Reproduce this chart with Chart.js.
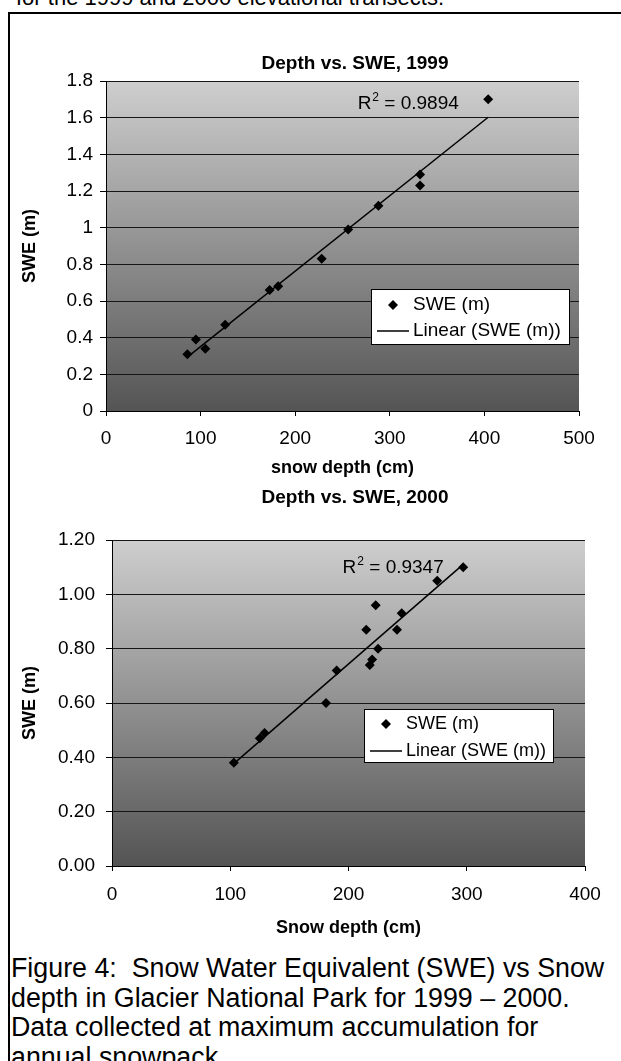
<!DOCTYPE html>
<html>
<head>
<meta charset="utf-8">
<script src="https://cdn.jsdelivr.net/npm/chart.js@4.4.1/dist/chart.umd.min.js"></script>
<style>
  body { margin: 0; width: 621px; height: 1061px; overflow: hidden; background: #fff; position: relative;
         font-family: Arial, "Liberation Sans", sans-serif; }
  .frame { position: absolute; left: 8px; top: 12px; width: 700px; height: 1100px; border: 2px solid #000; }
  .head { position: absolute; left: 16px; top: -17px; font-size: 22px; line-height: 30px; white-space: nowrap; }
  .box { position: absolute; left: 0; width: 621px; }
  .caption { position: absolute; left: 11px; top: 954px; font-size: 26.8px; line-height: 29.5px; white-space: pre; }
</style>
</head>
<body>
<div class="head">for the 1999 and 2000 elevational transects.</div>
<div class="frame"></div>
<div class="box" style="top:40px;height:440px"><canvas id="c1999"></canvas></div>
<div class="box" style="top:480px;height:460px"><canvas id="c2000"></canvas></div>
<div class="caption">Figure 4:  Snow Water Equivalent (SWE) vs Snow
depth in Glacier National Park for 1999 – 2000.
Data collected at maximum accumulation for
annual snowpack.</div>
<script>
/* data */
const depth1999 = [86, 95, 105, 126, 173, 182, 228, 256, 288, 332, 332, 404];
const swe1999   = [0.31, 0.39, 0.34, 0.47, 0.66, 0.68, 0.83, 0.99, 1.12, 1.29, 1.23, 1.70];
const depth2000 = [103, 125, 129, 181, 190, 215, 218, 220, 223, 225, 241, 245, 275, 297];
const swe2000   = [0.38, 0.47, 0.49, 0.60, 0.72, 0.87, 0.74, 0.76, 0.96, 0.80, 0.87, 0.93, 1.05, 1.10];

const xTicks1999 = ['0', '100', '200', '300', '400', '500'];
const yTicks1999 = ['0', '0.2', '0.4', '0.6', '0.8', '1', '1.2', '1.4', '1.6', '1.8'];
const xTicks2000 = ['0', '100', '200', '300', '400'];
const yTicks2000 = ['0.00', '0.20', '0.40', '0.60', '0.80', '1.00', '1.20'];

const r2Text1999 = '0.9894';
const r2Text2000 = '0.9347';

Chart.defaults.font.family = 'Arial, "Liberation Sans", sans-serif';
Chart.defaults.color = '#000';

/* least squares line through the points */
function linFit(xs, ys) {
  const n = xs.length;
  const mx = xs.reduce((a, b) => a + b, 0) / n;
  const my = ys.reduce((a, b) => a + b, 0) / n;
  let sxy = 0, sxx = 0;
  xs.forEach((x, i) => { sxy += (x - mx) * (ys[i] - my); sxx += (x - mx) * (x - mx); });
  const b = sxy / sxx, a = my - b * mx;
  const lo = Math.min(...xs), hi = Math.max(...xs);
  return [{ x: lo, y: a + b * lo }, { x: hi, y: a + b * hi }];
}

/* grey gradient behind the plot */
const plotBg = {
  id: 'plotBg',
  beforeDraw(chart) {
    const { ctx, chartArea: a } = chart;
    const g = ctx.createLinearGradient(0, a.top, 0, a.bottom);
    g.addColorStop(0, '#cecece');
    g.addColorStop(1, '#545454');
    ctx.save();
    ctx.fillStyle = g;
    ctx.fillRect(a.left, a.top, a.right - a.left, a.bottom - a.top);
    ctx.restore();
  }
};

/* title, R² note and boxed legend */
const extras = {
  id: 'extras',
  afterDraw(chart, args, o) {
    const { ctx, scales: { x, y } } = chart;
    ctx.save();
    ctx.fillStyle = '#000';
    ctx.font = 'bold 19px Arial, "Liberation Sans"';
    ctx.textAlign = 'center';
    ctx.textBaseline = 'alphabetic';
    ctx.fillText(o.title, o.titleX, o.titleY);

    let px = x.getPixelForValue(o.r2At[0]), py = y.getPixelForValue(o.r2At[1]);
    ctx.textAlign = 'left';
    ctx.font = '19px Arial, "Liberation Sans"';
    ctx.fillText('R', px, py);
    px += ctx.measureText('R').width + 1;
    ctx.font = '12px Arial, "Liberation Sans"';
    ctx.fillText('2', px, py - 8);
    px += ctx.measureText('2').width;
    ctx.font = '19px Arial, "Liberation Sans"';
    ctx.fillText(' = ' + o.r2, px, py);

    const L = o.legend;
    ctx.fillStyle = '#fff';
    ctx.fillRect(L.x, L.y, L.w, L.h);
    ctx.strokeStyle = '#000';
    ctx.lineWidth = 1;
    ctx.strokeRect(L.x + 0.5, L.y + 0.5, L.w - 1, L.h - 1);
    const ds = chart.data.datasets;
    ctx.fillStyle = '#000';
    // marker row
    const dx = L.x + 22, dy = L.y + L.row1;
    ctx.beginPath();
    ctx.moveTo(dx, dy - 5); ctx.lineTo(dx + 5, dy); ctx.lineTo(dx, dy + 5); ctx.lineTo(dx - 5, dy);
    ctx.closePath(); ctx.fill();
    // line row
    ctx.lineWidth = 1.5;
    ctx.beginPath();
    ctx.moveTo(L.x + 6, L.y + L.row2); ctx.lineTo(L.x + 38, L.y + L.row2);
    ctx.stroke();
    ctx.font = L.size + 'px Arial, "Liberation Sans"';
    ctx.textBaseline = 'middle';
    ctx.fillText(ds[0].label, L.x + 42, L.y + L.row1);
    ctx.fillText(ds[1].label, L.x + 42, L.y + L.row2);
    ctx.restore();
  }
};

function makeChart(id, depth, swe, cfg) {
  const pts = depth.map((d, i) => ({ x: d, y: swe[i] }));
  return new Chart(document.getElementById(id), {
    type: 'scatter',
    data: {
      datasets: [
        { label: 'SWE (m)', data: pts, pointStyle: 'rectRot', pointRadius: 5,
          backgroundColor: '#000', borderColor: '#000', borderWidth: 0 },
        { label: 'Linear (SWE (m))', data: linFit(depth, swe), showLine: true,
          borderColor: '#000', borderWidth: 1.5, pointRadius: 0, fill: false }
      ]
    },
    options: {
      responsive: true,
      maintainAspectRatio: false,
      animation: false,
      layout: { padding: cfg.padding },
      plugins: {
        legend: { display: false },
        tooltip: { enabled: false },
        extras: cfg.extras
      },
      scales: {
        x: {
          type: 'linear', min: 0, max: cfg.xMax,
          afterFit(s) { s.height = cfg.xHeight; },
          border: { display: true, color: '#000', width: 1 },
          grid: { drawOnChartArea: false, drawTicks: true, tickLength: 5, tickColor: '#000' },
          ticks: { stepSize: 100, padding: cfg.xPad, font: { size: 19 },
                   callback: (v) => cfg.xTicks[Math.round(v / 100)] },
          title: { display: true, text: cfg.xTitle, padding: 0, font: { size: 18, weight: 'bold' } }
        },
        y: {
          type: 'linear', min: 0, max: cfg.yMax,
          afterFit(s) { s.width = cfg.yWidth; },
          border: { display: true, color: '#000', width: 1 },
          grid: { color: '#161616', lineWidth: 1, drawTicks: true, tickLength: 6, tickColor: '#000' },
          ticks: { stepSize: 0.2, padding: cfg.yPad, font: { size: 19 },
                   callback: (v) => cfg.yTicks[Math.round(v / 0.2)] },
          title: { display: true, text: 'SWE (m)', padding: 0, font: { size: 18, weight: 'bold' } }
        }
      }
    },
    plugins: [plotBg, extras]
  });
}

makeChart('c1999', depth1999, swe1999, {
  padding: { left: 19, top: 41, right: 42, bottom: 1.6 },
  xMax: 500, yMax: 1.8, xTicks: xTicks1999, yTicks: yTicks1999,
  xHeight: 67.4, yWidth: 87, xPad: 11.6, yPad: 7,
  xTitle: 'snow depth (cm)',
  extras: {
    title: 'Depth vs. SWE, 1999', titleX: 355, titleY: 29,
    r2: r2Text1999, r2At: [266, 1.647],
    legend: { x: 371, y: 249, w: 199, h: 56, row1: 16, row2: 42, size: 19 }
  }
});

makeChart('c2000', depth2000, swe2000, {
  padding: { left: 19, top: 60, right: 36, bottom: 1.6 },
  xMax: 400, yMax: 1.2, xTicks: xTicks2000, yTicks: yTicks2000,
  xHeight: 72.4, yWidth: 93, xPad: 12.6, yPad: 11,
  xTitle: 'Snow depth (cm)',
  extras: {
    title: 'Depth vs. SWE, 2000', titleX: 355, titleY: 23,
    r2: r2Text2000, r2At: [195, 1.077],
    legend: { x: 364, y: 229, w: 190, h: 54, row1: 15, row2: 42, size: 18 }
  }
});
</script>
</body>
</html>
